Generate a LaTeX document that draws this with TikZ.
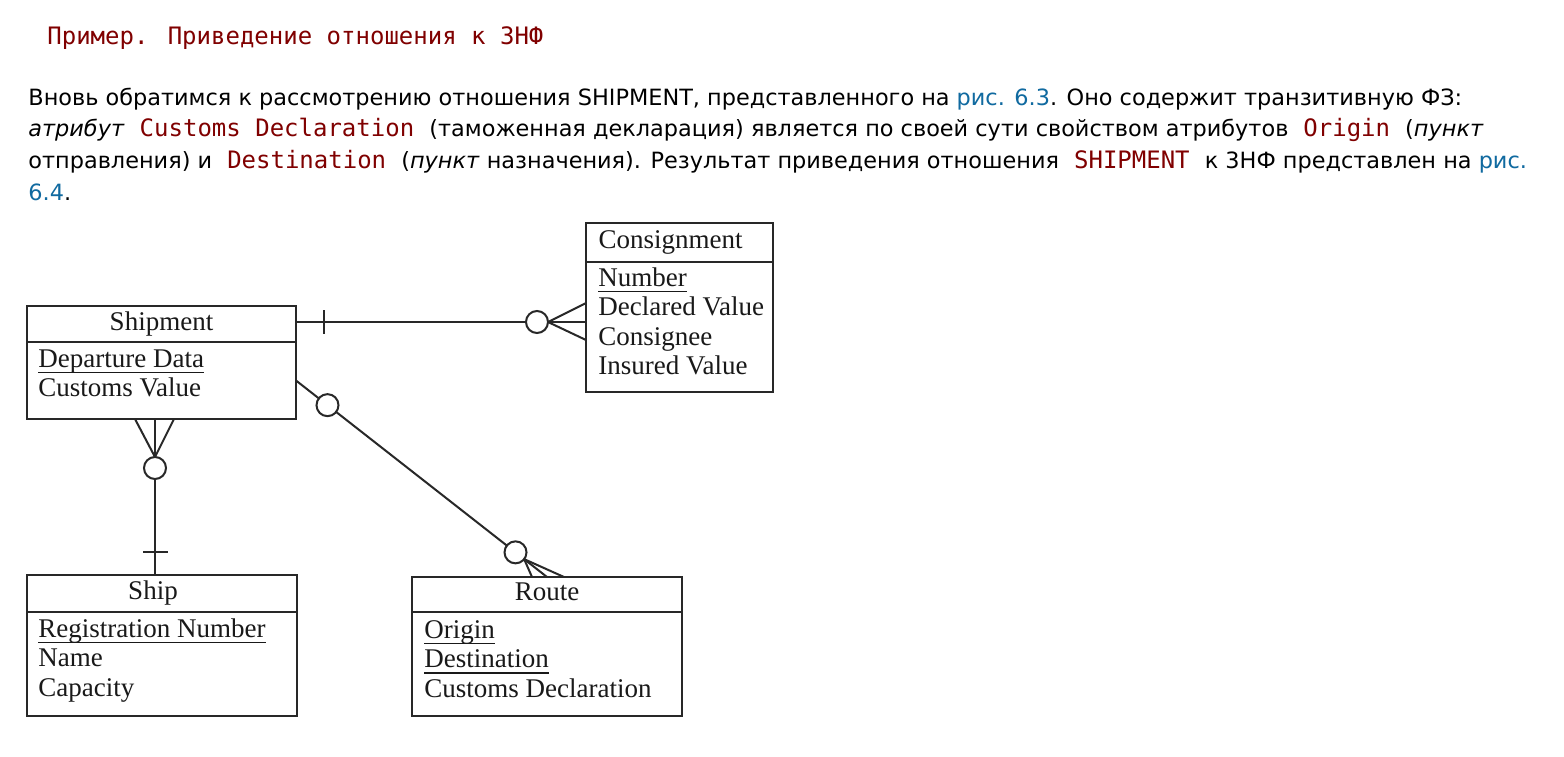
\documentclass[tikz,border=0pt]{standalone}
\usepackage{fontspec}
\setmainfont{DejaVu Sans}
\newfontfamily\codefont{DejaVu Sans Mono}
\newfontfamily\erfont{Liberation Serif}
\usetikzlibrary{calc}
\definecolor{codered}{RGB}{128,0,0}
\definecolor{linkblue}{RGB}{16,106,160}
\definecolor{erline}{RGB}{40,40,40}
\newcommand{\inlcode}[1]{\hspace{4pt}{\codefont\fontsize{12}{16}\selectfont\color{codered}#1}\hspace{4pt}}
\newcommand{\figlink}[1]{\textcolor{linkblue}{#1}}
\newcommand{\pkey}[1]{\leavevmode\setbox0\hbox{#1}\rlap{\rule[-3pt]{\wd0}{0.75pt}}\box0}

\begin{document}
\begin{tikzpicture}[
    x=0.5pt, y=-0.5pt,
    line/.style={inner sep=0pt, anchor=base west, font=\fontsize{11.2}{16}\selectfont},
    enthead/.style={draw=erline, line width=1.2pt, inner sep=0pt, outer sep=0pt, text=black!90,
                    font=\erfont\fontsize{13.5}{15}\selectfont,
                    text height=9pt, text depth=3pt},
    entbody/.style={draw=erline, line width=1.2pt, inner sep=0pt, outer sep=0pt, anchor=north},
    attrs/.style={inner sep=0pt, anchor=base west, align=left, text=black!90,
                  font=\erfont\fontsize{13.5}{14.75}\selectfont},
    rel/.style={draw=erline, line width=1pt},
    opt/.style={rel, fill=white}
  ]
  \fill[white] (0,0) rectangle (1564,756);
  \useasboundingbox (0,0) rectangle (1564,756);

  % text above the figure
  \node[line, font=\codefont\fontsize{12}{16}\selectfont, text=codered] (title) at (47,44)
    {Пример. Приведение отношения к 3НФ};
  \node[line] (par1) at (28,105) {Вновь обратимся к рассмотрению отношения SHIPMENT, представленного на \figlink{рис. 6.3}. Оно содержит транзитивную ФЗ:};
  \node[line] (par2) at (28,136) {\textit{атрибут} \inlcode{Customs Declaration} (таможенная декларация) является по своей сути свойством атрибутов \inlcode{Origin} (\textit{пункт}};
  \node[line] (par3) at (28,168) {отправления) и \inlcode{Destination} (\textit{пункт} назначения). Результат приведения отношения \inlcode{SHIPMENT} к 3НФ представлен на \figlink{рис.}};
  \node[line] (par4) at (28,200) {\figlink{6.4}.};

  % entities (attribute nodes sit on the baseline of their last line)
  \node[enthead, minimum width=134.5pt, minimum height=18pt] (shipment) at (161.5,324) {Shipment};
  \node[entbody, minimum width=134.5pt, minimum height=38.5pt] (shipmentbody) at (shipment.south) {};
  \node[attrs] (shipmentattr) at ($(shipmentbody.north west)+(11,54.5)$) {\pkey{Departure Data}\\Customs Value};

  \node[enthead, minimum width=93.5pt, minimum height=19.5pt] (consign) at (679.5,242.5) {Consignment\rule{9pt}{0pt}};
  \node[entbody, minimum width=93.5pt, minimum height=65pt] (consignbody) at (consign.south) {};
  \node[attrs] (consignattr) at ($(consignbody.north west)+(12,112.5)$) {\pkey{Number}\\Declared Value\\Consignee\\Insured Value};

  \node[enthead, minimum width=135pt, minimum height=18.5pt] (ship) at (162,593.5) {Ship\rule{9pt}{0pt}};
  \node[entbody, minimum width=135pt, minimum height=52pt] (shipbody) at (ship.south) {};
  \node[attrs] (shipattr) at ($(shipbody.north west)+(11,84)$) {\pkey{Registration Number}\\Name\\Capacity};

  \node[enthead, minimum width=135pt, minimum height=17.5pt] (route) at (547,594.5) {Route};
  \node[entbody, minimum width=135pt, minimum height=52pt] (routebody) at (route.south) {};
  \node[attrs] (routeattr) at ($(routebody.north west)+(12,85)$) {\pkey{Origin}\\\pkey{Destination}\\Customs Declaration};

  % Shipment -- Consignment
  \coordinate (c1a) at ($(shipment.east)+(0,-2)$);
  \coordinate (c1b) at (consignbody.west |- c1a);
  \draw[rel] (c1a) -- (c1b);
  \draw[rel] ($(c1a)+(28,-12)$) -- ($(c1a)+(28,12)$);
  \draw[rel] ($(c1b)+(-38,0)$) -- ($(c1b)+(0,-19)$);
  \draw[rel] ($(c1b)+(-38,0)$) -- ($(c1b)+(0,18)$);
  \draw[opt] ($(c1b)+(-49,0)$) circle[radius=5.5pt];

  % Shipment -- Ship
  \coordinate (c3a) at ($(shipmentbody.south)+(-6.5,0)$);
  \coordinate (c3b) at (c3a |- ship.north);
  \draw[rel] (c3a) -- (c3b);
  \draw[rel] ($(c3a)+(0,38)$) -- ($(c3a)+(-20,0)$);
  \draw[rel] ($(c3a)+(0,38)$) -- ($(c3a)+(19,0)$);
  \draw[opt] ($(c3a)+(0,49)$) circle[radius=5.5pt];
  \draw[rel] ($(c3b)+(-12,-23)$) -- ($(c3b)+(13,-23)$);

  % Shipment -- Route
  \coordinate (c2a) at (shipmentbody.east);
  \coordinate (c2b) at (route.north);
  \draw[rel] (c2a) -- (c2b);
  \draw[rel] ($(c2b)!14.5pt!(c2a)$) -- ($(c2b)+(-15,0)$);
  \draw[rel] ($(c2b)!14.5pt!(c2a)$) -- ($(c2b)+(17,0)$);
  \draw[opt] ($(c2a)!20pt!(c2b)$) circle[radius=5.5pt];
  \draw[opt] ($(c2b)!20pt!(c2a)$) circle[radius=5.5pt];
\end{tikzpicture}
\end{document}
